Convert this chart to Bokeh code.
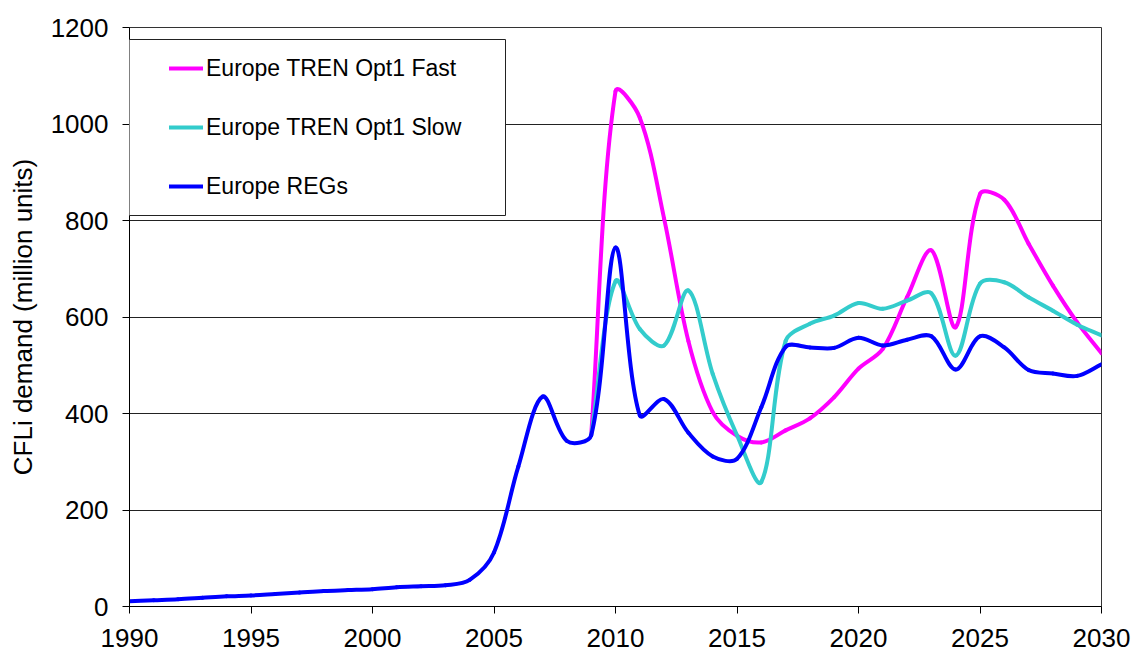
import math
from bokeh.plotting import figure
from bokeh.models import Legend, LegendItem, BoxAnnotation, FixedTicker
from bokeh.embed import file_html
from bokeh.resources import INLINE

# ---------------- data ----------------
years_regs = [1990, 1991, 1992, 1993, 1994, 1995, 1996, 1997, 1998, 1999,
              2000, 2001, 2002, 2003, 2004, 2005, 2006, 2007, 2008, 2009,
              2010, 2011, 2012, 2013, 2014, 2015, 2016, 2017, 2018, 2019,
              2020, 2021, 2022, 2023, 2024, 2025, 2026, 2027, 2028, 2029, 2030]
europe_regs = [11, 13, 15, 18, 21, 23, 26, 29, 32, 34,
               36, 40, 42, 44, 55, 112, 290, 435, 343, 355,
               744, 396, 430, 360, 311, 306, 413, 538, 537, 536,
               557, 541, 553, 560, 491, 560, 537, 490, 483, 478, 502]

years_tren = [2009, 2010, 2011, 2012, 2013, 2014, 2015, 2016, 2017, 2018, 2019,
              2020, 2021, 2022, 2023, 2024, 2025, 2026, 2027, 2028, 2029, 2030]
tren_fast = [355, 1068, 1013, 804, 550, 403, 354, 340, 365, 390, 434,
             493, 534, 641, 738, 579, 855, 843, 752, 665, 589, 525]
tren_slow = [355, 674, 575, 541, 655, 482, 355, 258, 550, 586, 603,
             629, 617, 634, 649, 520, 669, 672, 641, 613, 584, 562]

series_names = ["Europe TREN Opt1 Fast", "Europe TREN Opt1 Slow", "Europe REGs"]
series_colors = ["#FF00FF", "#33CCCC", "#0000FF"]

x_ticks = [1990, 1995, 2000, 2005, 2010, 2015, 2020, 2025, 2030]
y_ticks = [0, 200, 400, 600, 800, 1000, 1200]
y_title = "CFLi demand (million units)"

X_START, X_END = 1990, 2030
Y_START, Y_END = 0, 1200

FONT = "Liberation Sans"

# ---------------- layout ----------------
W, H = 1132, 657
B_LEFT, B_RIGHT, B_TOP, B_BOTTOM = 129, 31, 27, 51
FRAME_W = W - B_LEFT - B_RIGHT
FRAME_H = H - B_TOP - B_BOTTOM
SX = FRAME_W / (X_END - X_START)   # px per x unit
SY = FRAME_H / (Y_END - Y_START)   # px per y unit


def smooth_segments(xs, ys):
    """Bezier control points for a 'smoothed line' through the data points
    (tangents weighted by screen chord lengths)."""
    n = len(xs)
    d = [math.hypot((xs[i + 1] - xs[i]) * SX, (ys[i + 1] - ys[i]) * SY)
         for i in range(n - 1)]
    cout = [None] * n
    cin = [None] * n
    for i in range(n):
        if i == 0:
            cout[i] = (xs[0] + (xs[1] - xs[0]) / 3.0, ys[0] + (ys[1] - ys[0]) / 3.0)
        elif i == n - 1:
            cin[i] = (xs[i] - (xs[i] - xs[i - 1]) / 3.0, ys[i] - (ys[i] - ys[i - 1]) / 3.0)
        else:
            tx = xs[i + 1] - xs[i - 1]
            ty = ys[i + 1] - ys[i - 1]
            tot = d[i - 1] + d[i]
            wo = d[i] / tot
            wi = d[i - 1] / tot
            cout[i] = (xs[i] + tx * wo / 3.0, ys[i] + ty * wo / 3.0)
            cin[i] = (xs[i] - tx * wi / 3.0, ys[i] - ty * wi / 3.0)
    out = dict(x0=[], y0=[], x1=[], y1=[], cx0=[], cy0=[], cx1=[], cy1=[])
    for i in range(n - 1):
        out["x0"].append(xs[i]); out["y0"].append(ys[i])
        out["x1"].append(xs[i + 1]); out["y1"].append(ys[i + 1])
        out["cx0"].append(cout[i][0]); out["cy0"].append(cout[i][1])
        out["cx1"].append(cin[i + 1][0]); out["cy1"].append(cin[i + 1][1])
    return out


p = figure(width=W, height=H, x_range=(X_START, X_END), y_range=(Y_START, Y_END),
           output_backend="svg", toolbar_location=None,
           min_border_left=B_LEFT, min_border_right=B_RIGHT,
           min_border_top=B_TOP, min_border_bottom=B_BOTTOM)

p.background_fill_color = "white"
p.border_fill_color = "white"
p.outline_line_color = "#333333"
p.outline_line_width = 1

p.xgrid.visible = False
p.ygrid.grid_line_color = "#222222"
p.ygrid.grid_line_width = 1
p.ygrid.ticker = FixedTicker(ticks=y_ticks)

for ax in (p.xaxis[0], p.yaxis[0]):
    ax.axis_line_color = "black"
    ax.axis_line_width = 1
    ax.major_tick_line_color = "black"
    ax.major_tick_in = 0
    ax.major_tick_out = 7
    ax.minor_tick_line_color = None
    ax.major_label_text_font = FONT
    ax.major_label_text_font_size = "26px"
    ax.major_label_text_color = "black"

p.xaxis.ticker = FixedTicker(ticks=x_ticks)
p.yaxis.ticker = FixedTicker(ticks=y_ticks)
p.xaxis.major_label_standoff = 15
p.yaxis.major_label_standoff = 14

p.yaxis.axis_label = y_title
p.yaxis.axis_label_text_font = FONT
p.yaxis.axis_label_text_font_size = "26px"
p.yaxis.axis_label_text_font_style = "normal"
p.yaxis.axis_label_text_color = "black"
p.yaxis.axis_label_standoff = 10

renderers = []
for xs, ys, color in [(years_tren, tren_fast, series_colors[0]),
                      (years_tren, tren_slow, series_colors[1]),
                      (years_regs, europe_regs, series_colors[2])]:
    seg = smooth_segments(xs, ys)
    r = p.bezier(x0="x0", y0="y0", x1="x1", y1="y1",
                 cx0="cx0", cy0="cy0", cx1="cx1", cy1="cy1",
                 source=seg, line_color=color, line_width=4,
                 line_cap="round", line_join="round")
    renderers.append(r)

# legend frame (screen units relative to the plot frame)
box = BoxAnnotation(left=-1, right=376, top=567, bottom=391,
                    left_units="screen", right_units="screen",
                    top_units="screen", bottom_units="screen",
                    fill_color="white", fill_alpha=1.0,
                    line_color="#222222", line_width=1, line_alpha=1.0)
p.add_layout(box)

legend = Legend(items=[LegendItem(label=n, renderers=[r])
                       for n, r in zip(series_names, renderers)],
                location=(40, 406), padding=0, spacing=31, margin=0,
                glyph_width=34, glyph_height=28, label_height=28,
                label_standoff=3, border_line_color=None,
                background_fill_alpha=0.0,
                label_text_font=FONT, label_text_font_size="23px",
                label_text_color="black")
p.add_layout(legend)

open("out.html", "w").write(file_html(p, INLINE))
